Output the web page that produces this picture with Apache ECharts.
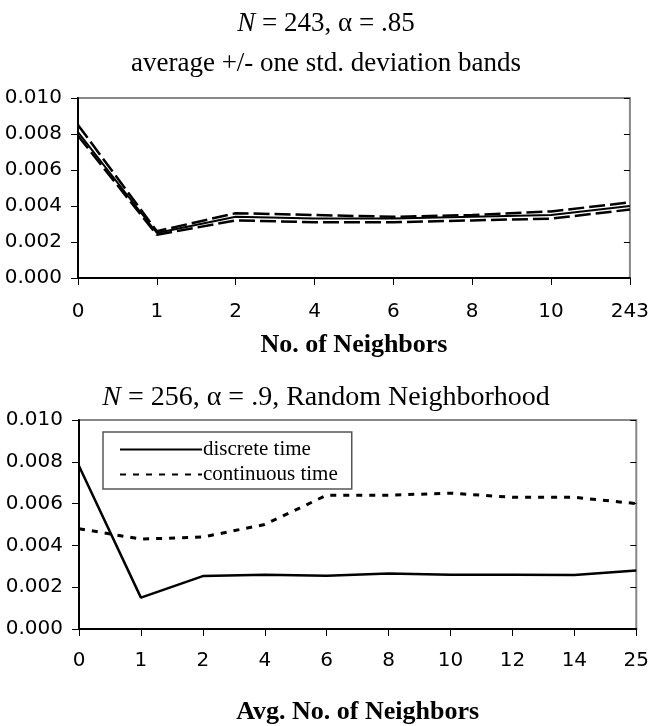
<!DOCTYPE html>
<html><head><meta charset="utf-8">
<script src="https://cdn.jsdelivr.net/npm/echarts@6/dist/echarts.min.js"></script>
<style>html,body{margin:0;padding:0;background:#fff}#c{width:652px;height:726px}</style>
</head><body><div id="c"></div>
<script>
const topCategories = ['0','1','2','4','6','8','10','243'];
const topMean  = [0.0081,0.0025,0.0034,0.0033,0.0033,0.0034,0.0035,0.0040];
const topUpper = [0.0085,0.0026,0.0036,0.0035,0.0034,0.0035,0.0037,0.0042];
const topLower = [0.0079,0.0024,0.0032,0.0031,0.0031,0.0032,0.0033,0.0038];
const bottomCategories = ['0','1','2','4','6','8','10','12','14','25'];
const discreteTime   = [0.0078,0.0015,0.00253,0.0026,0.00255,0.00265,0.0026,0.0026,0.00258,0.0028];
const continuousTime = [0.0048,0.0043,0.0044,0.0050,0.0064,0.0064,0.0065,0.0063,0.0063,0.0060];
const yMin = 0, yMax = 0.010, yStep = 0.002;

const serif = 'Liberation Serif';
const sans = 'DejaVu Sans';

function xAxes(gridIndex, cats, name, nameGap, labelMargin) {
  return [{
    type:'category', gridIndex, data:cats, boundaryGap:false,
    name, nameLocation:'middle', nameGap,
    nameTextStyle:{fontFamily:serif, fontSize:26, fontWeight:'bold', color:'#000'},
    axisLine:{lineStyle:{color:'#000', width:2}},
    axisTick:{inside:false, length:7, lineStyle:{color:'#000', width:1}},
    axisLabel:{fontFamily:sans, fontSize:20, color:'#000', margin:labelMargin},
    splitLine:{show:false}
  },{
    type:'category', gridIndex, data:cats, boundaryGap:false,
    axisLine:{show:false},
    axisTick:{inside:true, length:6, lineStyle:{color:'#000', width:1}},
    axisLabel:{show:false}, splitLine:{show:false}
  }];
}
function yAxes(gridIndex) {
  return [{
    type:'value', gridIndex, min:yMin, max:yMax, interval:yStep,
    axisLine:{show:true, lineStyle:{color:'#000', width:2}},
    axisTick:{show:true, inside:false, length:7, lineStyle:{color:'#000', width:1}},
    axisLabel:{fontFamily:sans, fontSize:20, color:'#000', margin:16, formatter:v=>v.toFixed(3)},
    splitLine:{show:false}
  },{
    type:'value', gridIndex, min:yMin, max:yMax, interval:yStep,
    axisLine:{show:false},
    axisTick:{show:true, inside:true, length:6, lineStyle:{color:'#000', width:1}},
    axisLabel:{show:false}, splitLine:{show:false}
  }];
}

function titleStyle(size) {
  return {fontFamily:serif, fontSize:size, fontWeight:'normal', color:'#000',
    rich:{i:{fontFamily:serif, fontSize:size, fontStyle:'italic', color:'#000'}}};
}

const chart = echarts.init(document.getElementById('c'), null, {renderer:'canvas'});
chart.setOption({
  animation:false,
  backgroundColor:'#fff',
  title:[
    {text:'{i|N} = 243, α = .85', left:'center', top:5, textStyle:titleStyle(27)},
    {text:'average +/- one std. deviation bands', left:'center', top:45, textStyle:titleStyle(27)},
    {text:'{i|N} = 256, α = .9, Random Neighborhood', left:'center', top:379, textStyle:titleStyle(28)}
  ],
  legend:{
    data:['discrete time','continuous time'],
    orient:'vertical', left:103, top:432,
    borderColor:'#555', borderWidth:1.5, backgroundColor:'#fff',
    padding:[7,14,4,16], itemWidth:82, itemHeight:12, itemGap:4,
    itemStyle:{opacity:0},
    textStyle:{fontFamily:serif, fontSize:21, color:'#000', padding:[0,0,0,-4]}
  },
  grid:[
    {left:78, top:98, width:558, height:180, show:true, borderColor:'#888', borderWidth:2, backgroundColor:'transparent'},
    {left:79, top:420, width:563, height:222, show:true, borderColor:'#888', borderWidth:2, backgroundColor:'transparent'}
  ],
  xAxis:[...xAxes(0, topCategories, 'No. of Neighbors', 54, 24), ...xAxes(1, bottomCategories, 'Avg. No. of Neighbors', 70, 22)],
  yAxis:[...yAxes(0), ...yAxes(1)],
  series:[
    {name:'upper', type:'line', xAxisIndex:0, yAxisIndex:0, data:topUpper, symbol:'none', silent:true,
      lineStyle:{color:'#000', width:2.5, type:[16,5]}},
    {name:'lower', type:'line', xAxisIndex:0, yAxisIndex:0, data:topLower, symbol:'none', silent:true,
      lineStyle:{color:'#000', width:2.5, type:[16,5]}},
    {name:'average', type:'line', xAxisIndex:0, yAxisIndex:0, data:topMean, symbol:'none', silent:true,
      lineStyle:{color:'#000', width:2}},
    {name:'discrete time', type:'line', xAxisIndex:2, yAxisIndex:2, data:discreteTime, symbol:'none', silent:true,
      itemStyle:{color:'#000'}, lineStyle:{color:'#000', width:2.5}},
    {name:'continuous time', type:'line', xAxisIndex:2, yAxisIndex:2, data:continuousTime, symbol:'none', silent:true,
      itemStyle:{color:'#000'}, lineStyle:{color:'#000', width:3, type:[6,7]}}
  ]
});
</script></body></html>
